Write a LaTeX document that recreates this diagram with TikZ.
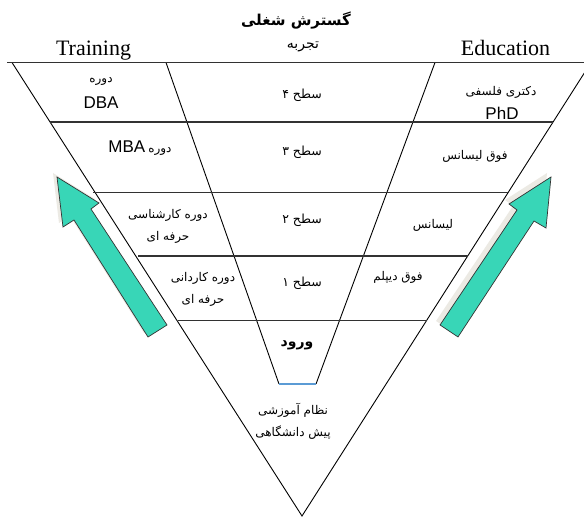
\documentclass[tikz,border=0pt]{standalone}
\usepackage{fontspec}
\setmainfont{Liberation Serif}
\newfontfamily\fa[Script=Arabic]{DejaVu Sans}
\newfontfamily\arl{Liberation Sans}
\TeXXeTstate=1
\newcommand\fat[1]{{\fa\beginR #1\endR}}
\definecolor{teal1}{RGB}{56,214,183}
\definecolor{shad}{RGB}{236,234,228}
\definecolor{hline}{RGB}{50,50,50}
\definecolor{blu}{RGB}{91,155,213}
\tikzset{
  side/.style={draw=black, line width=0.9pt},
  row/.style={draw=hline, line width=1.3pt},
  lab/.style={inner sep=0pt, align=center, font=\fontsize{12}{22}\selectfont},
  lev/.style={inner sep=0pt, align=center, font=\fontsize{12.5}{14}\selectfont},
  eng/.style={inner sep=0pt, font=\fontsize{22}{24}\selectfont},
  latin/.style={inner sep=0pt, font=\arl\fontsize{17}{20}\selectfont},
  bigarrow/.style={fill=teal1, draw=black!80, line width=0.7pt},
  arrowshadow/.style={fill=shad, draw=none}
}
\begin{document}
\begin{tikzpicture}[x=1pt,y=-1pt]
\useasboundingbox (0,0) rectangle (584,518);
\fill[white] (0,0) rectangle (584,518);
% geometry
\coordinate (TL) at (12,62.5);
\coordinate (TR) at (591,62.5);
\coordinate (V) at (302,516);
\coordinate (T0) at (7,62.5);
\coordinate (L1) at (50,122);   \coordinate (R1) at (553,122);
\coordinate (L2) at (93,192.5); \coordinate (R2) at (508,192.5);
\coordinate (L3) at (138,256);  \coordinate (R3) at (468,256);
\coordinate (L4) at (178,320.5);\coordinate (R4) at (427,320.5);
\coordinate (IL0) at (166,62.5); \coordinate (IL1) at (279,384);
\coordinate (IR0) at (435,62.5); \coordinate (IR1) at (316,384);
% arrows (shadow first)
\begin{scope}[shift={(-4,-4)}]
\fill[arrowshadow] (57,177) -- (99,203) -- (91,209) -- (167,325) -- (148,337) -- (74,220) -- (63,227) -- cycle;
\fill[arrowshadow] (551,177) -- (509,204) -- (517,210) -- (440,325) -- (458,337) -- (534,221) -- (546,228) -- cycle;
\end{scope}
\draw[bigarrow] (57,177) -- (99,203) -- (91,209) -- (167,325) -- (148,337) -- (74,220) -- (63,227) -- cycle;
\draw[bigarrow] (551,177) -- (509,204) -- (517,210) -- (440,325) -- (458,337) -- (534,221) -- (546,228) -- cycle;
% outer triangle and inner funnel
\draw[side] (TL) -- (V) -- (TR);
\draw[side] (IL0) -- (IL1);
\draw[side] (IR0) -- (IR1);
\draw[blu, line width=1.4pt] (IL1) -- (IR1);
% rows
\draw[row] (T0) -- (TR);
\draw[row] (L1) -- (R1);
\draw[row] (L2) -- (R2);
\draw[row] (L3) -- (R3);
\draw[row] (L4) -- (R4);
% headers
\node[lab, font=\fa\bfseries\fontsize{15}{17}\selectfont] (title) at (296,21) {\fat{گسترش شغلی}};
\node[eng, anchor=base] (train) at (93.5,55.5) {Training};
\node[eng, anchor=base] (edu) at (505.5,55.5) {Education};
\node[lab, font=\fontsize{14}{16}\selectfont] (exp) at (303,47) {\fat{تجربه}};
% row 1
\node[lab] (dba1) at (101,81) {\fat{دوره}};
\node[latin] (dba2) at (101,103) {DBA};
\node[lev] (lev4) at (302,95) {\fat{سطح ۴}};
\node[lab] (phd1) at (501,92) {\fat{دکتری فلسفی}};
\node[latin] (phd2) at (502,113.5) {PhD};
% row 2
\node[lab] (mba) at (140,148) {{\arl\fontsize{17}{20}\selectfont MBA} \fat{دوره}};
\node[lev] (lev3) at (302,152) {\fat{سطح ۳}};
\node[lab] (ms) at (475,156) {\fat{فوق لیسانس}};
% row 3
\node[lab] (bsc) at (168,226) {\fat{دوره کارشناسی}\\\fat{حرفه ای}};
\node[lev] (lev2) at (302,220) {\fat{سطح ۲}};
\node[lab] (ba) at (433,225) {\fat{لیسانس}};
% row 4
\node[lab] (asc) at (203,289.5) {\fat{دوره کاردانی}\\\fat{حرفه ای}};
\node[lev] (lev1) at (302,283) {\fat{سطح ۱}};
\node[lab] (dip) at (398,277) {\fat{فوق دیپلم}};
% entry
\node[lab, font=\fa\bfseries\fontsize{14}{16}\selectfont] (entry) at (297,345) {\fat{ورود}};
\node[lab] (pre) at (293,421) {\fat{نظام آموزشی}\\\fat{پیش دانشگاهی}};
\end{tikzpicture}
\end{document}
